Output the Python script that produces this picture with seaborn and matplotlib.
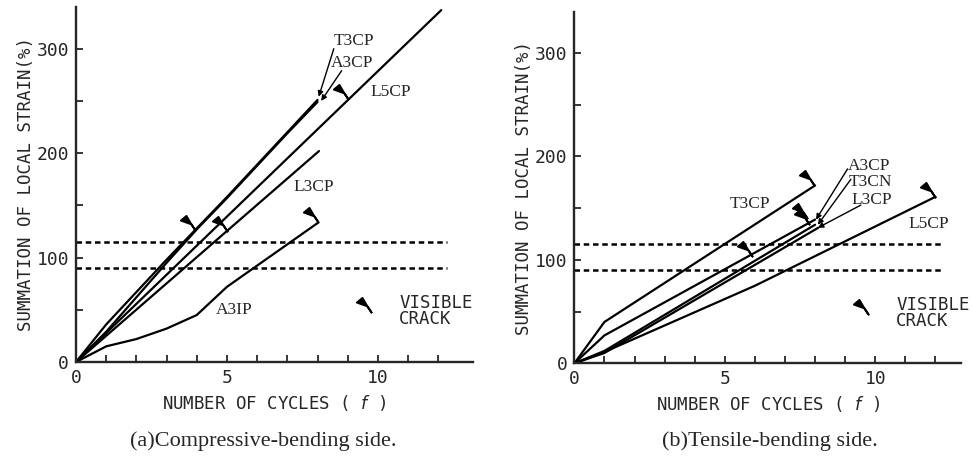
import numpy as np
import pandas as pd
import matplotlib
matplotlib.use("Agg")
import matplotlib.pyplot as plt
from matplotlib.path import Path
import seaborn as sns

sns.set_style("ticks")
plt.rcParams["font.family"] = ["DejaVu Sans Mono", "DejaVu Sans"]

# ---- (a) compressive-bending side ----
a_T3CP_x = [0, 1, 2, 3, 4, 5, 6, 7, 8]
a_T3CP_y = [0, 36, 67, 98, 128, 158, 189, 220, 251]
a_A3CP_x = [0, 1, 2, 3, 4, 5, 6, 7, 8]
a_A3CP_y = [0, 29, 62, 95, 127, 157, 188, 219, 249]
a_L5CP_x = [0, 12.1]
a_L5CP_y = [0, 337]
a_L3CP_x = [0, 8.05]
a_L3CP_y = [0, 202]
a_A3IP_x = [0, 1, 2, 3, 4, 5, 8]
a_A3IP_y = [0, 15, 22, 32, 45, 72, 133]
a_crack_x = [3.95, 5.0, 9.0, 8.0]
a_crack_y = [126, 125, 252, 134]

# ---- (b) tensile-bending side ----
b_T3CP_x = [0, 1, 8]
b_T3CP_y = [0, 40, 172]
b_A3CP_x = [0, 1, 8]
b_A3CP_y = [0, 27, 139]
b_T3CN_x = [0, 1, 8]
b_T3CN_y = [0, 12, 134]
b_L3CP_x = [0, 1, 8.1]
b_L3CP_y = [0, 10, 131]
b_L5CP_x = [0, 1, 6, 12]
b_L5CP_y = [0, 11, 75, 161]
b_crack_x = [7.95, 5.9, 7.72, 7.8, 12.0]
b_crack_y = [172, 104, 141, 135, 161]

limit_levels = [115, 90]
xticks = [0, 5, 10]
yticks = [0, 100, 200, 300]
ylabel = "SUMMATION OF LOCAL STRAIN(%)"
xlabel = "NUMBER OF CYCLES ( $f$ )"
captions = ["(a)Compressive-bending side.", "(b)Tensile-bending side."]

# flag marker: filled pennant on a short stem whose tip sits on the curve
flag = Path(
    [(0, 0), (-0.28, 0.42), (-1.0, 0.68), (-0.62, 1.0), (-0.28, 0.42), (0, 0)],
    [Path.MOVETO, Path.LINETO, Path.LINETO, Path.LINETO, Path.LINETO, Path.CLOSEPOLY],
)

fig = plt.figure(figsize=(9.72, 4.63), dpi=100)
ax_a = fig.add_axes([0.0782, 0.2181, 0.4084, 0.7669])
ax_b = fig.add_axes([0.5909, 0.2153, 0.3978, 0.7594])

serif = "Liberation Serif"
lw = 1.6


def curves_frame(series):
    frames = []
    for name, xs, ys in series:
        frames.append(pd.DataFrame({"cycles": xs, "strain": ys, "spec": name}))
    return pd.concat(frames, ignore_index=True)


def style_axes(ax, xmax):
    ax.set_xlim(0, xmax)
    ax.set_ylim(0, 340)
    ax.set_xticks(xticks)
    ax.set_xticks(np.arange(1, 13), minor=True)
    ax.set_yticks(yticks)
    ax.set_yticks([50, 150, 250], minor=True)
    ax.tick_params(which="both", direction="in", length=5, width=1.3,
                   labelsize=13, pad=5)
    for s in ["top", "right"]:
        ax.spines[s].set_visible(False)
    for s in ["left", "bottom"]:
        ax.spines[s].set_linewidth(1.7)
    ax.set_xlabel(xlabel, fontsize=12.5, labelpad=4)
    ax.set_ylabel(ylabel, fontsize=12.5, labelpad=1)


def draw_panel(ax, series, crack_x, crack_y, xmax):
    df = curves_frame(series)
    sns.lineplot(data=df, x="cycles", y="strain", units="spec", estimator=None,
                 sort=False, color="black", lw=lw, ax=ax, legend=False)
    for lv in limit_levels:
        sns.lineplot(x=[0, 12.3], y=[lv, lv], color="black", lw=1.8,
                     linestyle=(0, (2.2, 1.5)), ax=ax)
    ax.plot(crack_x, crack_y, linestyle="none", marker=flag, markersize=21,
            color="black", markeredgewidth=1.4, clip_on=False)
    # legend symbol for visible cracks
    ax.plot([9.77], [48], linestyle="none", marker=flag, markersize=21,
            color="black", markeredgewidth=1.4)
    ax.text(10.7, 49, "VISIBLE\nCRACK", fontsize=12.5, va="center", ha="left",
            linespacing=0.85)
    style_axes(ax, xmax)


draw_panel(ax_a,
           [("T3CP", a_T3CP_x, a_T3CP_y), ("A3CP", a_A3CP_x, a_A3CP_y),
            ("L5CP", a_L5CP_x, a_L5CP_y), ("L3CP", a_L3CP_x, a_L3CP_y),
            ("A3IP", a_A3IP_x, a_A3IP_y)],
           a_crack_x, a_crack_y, 13.15)

draw_panel(ax_b,
           [("T3CP", b_T3CP_x, b_T3CP_y), ("A3CP", b_A3CP_x, b_A3CP_y),
            ("T3CN", b_T3CN_x, b_T3CN_y), ("L3CP", b_L3CP_x, b_L3CP_y),
            ("L5CP", b_L5CP_x, b_L5CP_y)],
           b_crack_x, b_crack_y, 12.85)

lab = dict(fontsize=12.5, family=serif, ha="left", va="center")
arrow = dict(arrowstyle="-|>", color="black", lw=1.0, mutation_scale=8,
             shrinkA=0, shrinkB=0)

# labels, panel (a)
ax_a.text(8.54, 307, "T3CP", **lab)
ax_a.text(8.44, 286, "A3CP", **lab)
ax_a.annotate("", xy=(8.04, 254), xytext=(8.54, 300), arrowprops=arrow)
ax_a.annotate("", xy=(8.12, 250), xytext=(8.8, 279), arrowprops=arrow)
ax_a.text(9.77, 259, "L5CP", **lab)
ax_a.text(7.21, 168, "L3CP", **lab)
ax_a.text(4.62, 50, "A3IP", **lab)

# labels, panel (b)
ax_b.text(5.15, 154, "T3CP", **lab)
ax_b.text(9.09, 191, "A3CP", **lab)
ax_b.text(9.12, 175, "T3CN", **lab)
ax_b.text(9.2, 158, "L3CP", **lab)
ax_b.text(11.1, 135, "L5CP", **lab)
ax_b.annotate("", xy=(8.03, 139), xytext=(9.08, 188), arrowprops=arrow)
ax_b.annotate("", xy=(8.09, 134), xytext=(9.19, 178), arrowprops=arrow)
ax_b.annotate("", xy=(8.09, 131), xytext=(9.52, 153), arrowprops=arrow)

fig.text(263 / 972, 1 - 441 / 463, captions[0], family=serif, fontsize=16,
         ha="center", va="center")
fig.text(770 / 972, 1 - 441 / 463, captions[1], family=serif, fontsize=16,
         ha="center", va="center")

fig.savefig("out.png", dpi=100)
